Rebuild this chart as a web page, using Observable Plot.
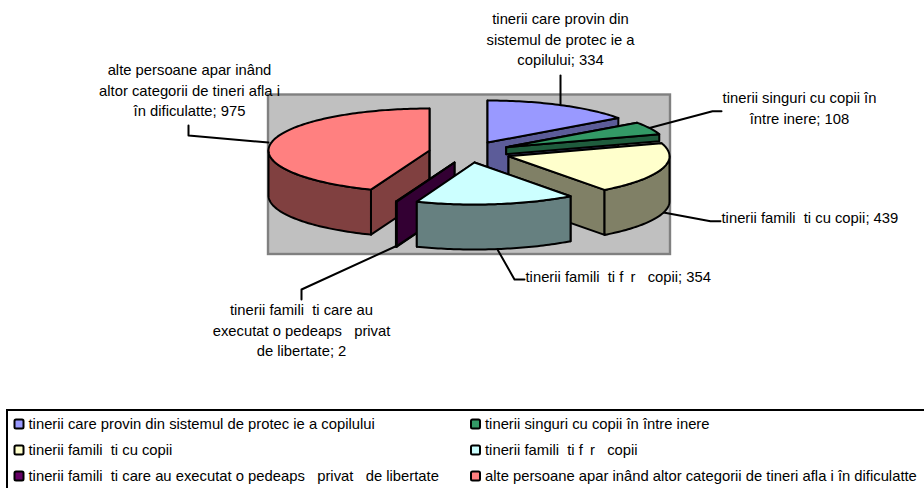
<!DOCTYPE html>
<html>
<head>
<meta charset="utf-8">
<script src="https://cdn.jsdelivr.net/npm/d3@7"></script>
<script src="https://cdn.jsdelivr.net/npm/@observablehq/plot@0.6"></script>
<style>html,body{margin:0;padding:0;background:#fff;overflow:hidden}svg{display:block}</style>
</head>
<body>
<div id="chart"></div>
<script>
// ---- data ----
const categories = [
  "tinerii care provin din sistemul de protec\u00a0ie a copilului",
  "tinerii singuri cu copii \u00een \u00eentre\u00a0inere",
  "tinerii famili\u00a0\u00a0ti cu copii",
  "tinerii famili\u00a0\u00a0ti f\u00a0\u2009r\u00a0\u00a0 copii",
  "tinerii famili\u00a0\u00a0ti care au executat o pedeaps\u00a0\u00a0 privat\u00a0\u00a0 de libertate",
  "alte persoane apar\u00a0in\u00e2nd altor categorii de tineri afla\u00a0i \u00een dificulatte"
];
const values = [334, 108, 439, 354, 2, 975];
const labelLines = [
  ["tinerii care provin din", "sistemul de protec\u00a0ie a", "copilului; 334"],
  ["tinerii singuri cu copii \u00een", "\u00eentre\u00a0inere; 108"],
  ["tinerii famili\u00a0\u00a0ti cu copii; 439"],
  ["tinerii famili\u00a0\u00a0ti f\u00a0\u2009r\u00a0\u00a0 copii; 354"],
  ["tinerii famili\u00a0\u00a0ti care au", "executat o pedeaps\u00a0\u00a0 privat", "de libertate; 2"],
  ["alte persoane apar\u00a0in\u00e2nd", "altor categorii de tineri afla\u00a0i", "\u00een dificulatte; 975"]
];

// ---- styles and layout ----
const topColors  = ["#9999FF", "#339966", "#FFFFCC", "#CCFFFF", "#660066", "#FF8080"];
const sideColors = ["#5C5C99", "#1F5C3D", "#808066", "#668080", "#330033", "#804040"];
const centersX = [487, 505.7, 508, 474, 454, 429];
const centersY = [142, 146.7, 155.7, 162, 162, 150];
const depths = [45, 7, 45, 45, 45, 45];
const paintOrder = [0, 5, 1, 2, 4, 3];
const RX = 161, RY = 42;
const font = "'Liberation Sans', Arial, sans-serif";
const fs = 14.8;

const labelAnchor = [
  {x: 560, y: 19, a: "middle"}, {x: 799, y: 98, a: "middle"}, {x: 721, y: 218, a: "start"},
  {x: 525, y: 277, a: "start"}, {x: 301, y: 310, a: "middle"}, {x: 189, y: 70, a: "middle"}
];
const leaders = [
  [[560, 104], [560, 75]],
  [[648, 127.7], [712, 110.7], [721, 110.7]],
  [[663, 212], [710, 220.7], [720, 220.7]],
  [[497, 249], [514, 279], [524, 279]],
  [[397, 245], [301, 289], [301, 299]],
  [[268, 142], [188, 135], [188, 125]]
];

// ---- geometry derived from the values ----
const total = d3.sum(values);
const cum = d3.cumsum(values);
const deg = v => v / total * 2 * Math.PI;
const faces = [];
function face(id, pts, fill) {
  const closed = [...pts, pts[0]];
  for (const [x, y] of closed) faces.push({id, x, y, fill});
}
for (const i of paintOrder) {
  const a0 = deg(cum[i] - values[i]), a1 = deg(cum[i]);
  const cx = centersX[i], cy = centersY[i], d = depths[i];
  const P = a => [cx + RX * Math.sin(a), cy - RY * Math.cos(a)];
  const arc = (s, e) => {
    const n = Math.max(2, Math.ceil(Math.abs(e - s) / 0.02));
    return d3.range(n + 1).map(k => P(s + (e - s) * k / n));
  };
  const down = ([x, y]) => [x, y + d];
  // the two radial faces
  for (const [k, a] of [a0, a1].entries()) {
    const p = P(a);
    face(`${i}-r${k}`, [[cx, cy], p, down(p), [cx, cy + d]], sideColors[i]);
  }
  // the outer wall, only where it faces the viewer
  const s = Math.max(a0, Math.PI / 2), e = Math.min(a1, 1.5 * Math.PI);
  if (e > s) {
    const top = arc(s, e);
    face(`${i}-w`, [...top, ...top.slice().reverse().map(down)], sideColors[i]);
  }
  // the top
  face(`${i}-t`, [[cx, cy], ...arc(a0, a1)], topColors[i]);
}

const labelRows = labelLines.flatMap((lines, i) => lines.map((t, j) => ({
  t, x: labelAnchor[i].x, y: labelAnchor[i].y + j * 20.4, a: labelAnchor[i].a
})));
const leaderRows = leaders.flatMap((l, i) => l.map(([x, y]) => ({i, x, y})));
const legendRows = categories.map((name, i) => ({
  name, fill: topColors[i],
  x: i % 2 ? 471 : 14.5,
  y: 424 + Math.floor(i / 2) * 26
}));

const chart = Plot.plot({
  width: 924, height: 488,
  margin: 0,
  x: {domain: [0, 924], range: [0, 924], axis: null},
  y: {domain: [0, 488], range: [0, 488], axis: null},
  style: {fontFamily: font, background: "#fff"},
  marks: [
    // plot wall
    Plot.rect([{x1: 268, x2: 670, y1: 94.5, y2: 254}], {
      x1: "x1", x2: "x2", y1: "y1", y2: "y2", fill: "#C0C0C0", stroke: "#808080", strokeWidth: 2.4
    }),
    // leaders behind pie
    Plot.line(leaderRows, {x: "x", y: "y", z: "i", stroke: "#000", strokeWidth: 2}),
    // pie faces
    Plot.line(faces, {
      x: "x", y: "y", z: "id", fill: d => d.fill, stroke: "#000", strokeWidth: 2,
      strokeLinejoin: "round"
    }),
    // data labels
    Plot.text(labelRows.filter(d => d.a === "middle"), {
      x: "x", y: "y", text: "t", textAnchor: "middle", fontSize: fs, fill: "#000"
    }),
    Plot.text(labelRows.filter(d => d.a === "start"), {
      x: "x", y: "y", text: "t", textAnchor: "start", fontSize: fs, fill: "#000"
    }),
    // legend frame: its right and bottom sides fall outside the picture
    Plot.rect([{x1: 7, x2: 940, y1: 410, y2: 500}], {
      x1: "x1", x2: "x2", y1: "y1", y2: "y2", fill: "none", stroke: "#000", strokeWidth: 2, clip: true
    }),
    // legend swatches
    Plot.rect(legendRows, {
      x1: d => d.x, x2: d => d.x + 9, y1: d => d.y - 4.5, y2: d => d.y + 4.5,
      fill: "fill", stroke: "#000", strokeWidth: 2, rx: 1.5
    }),
    Plot.text(legendRows, {
      x: d => d.x + 13.5, y: "y", text: "name", textAnchor: "start", fontSize: fs, fill: "#000"
    })
  ]
});
document.getElementById("chart").append(chart);
</script>
</body>
</html>
